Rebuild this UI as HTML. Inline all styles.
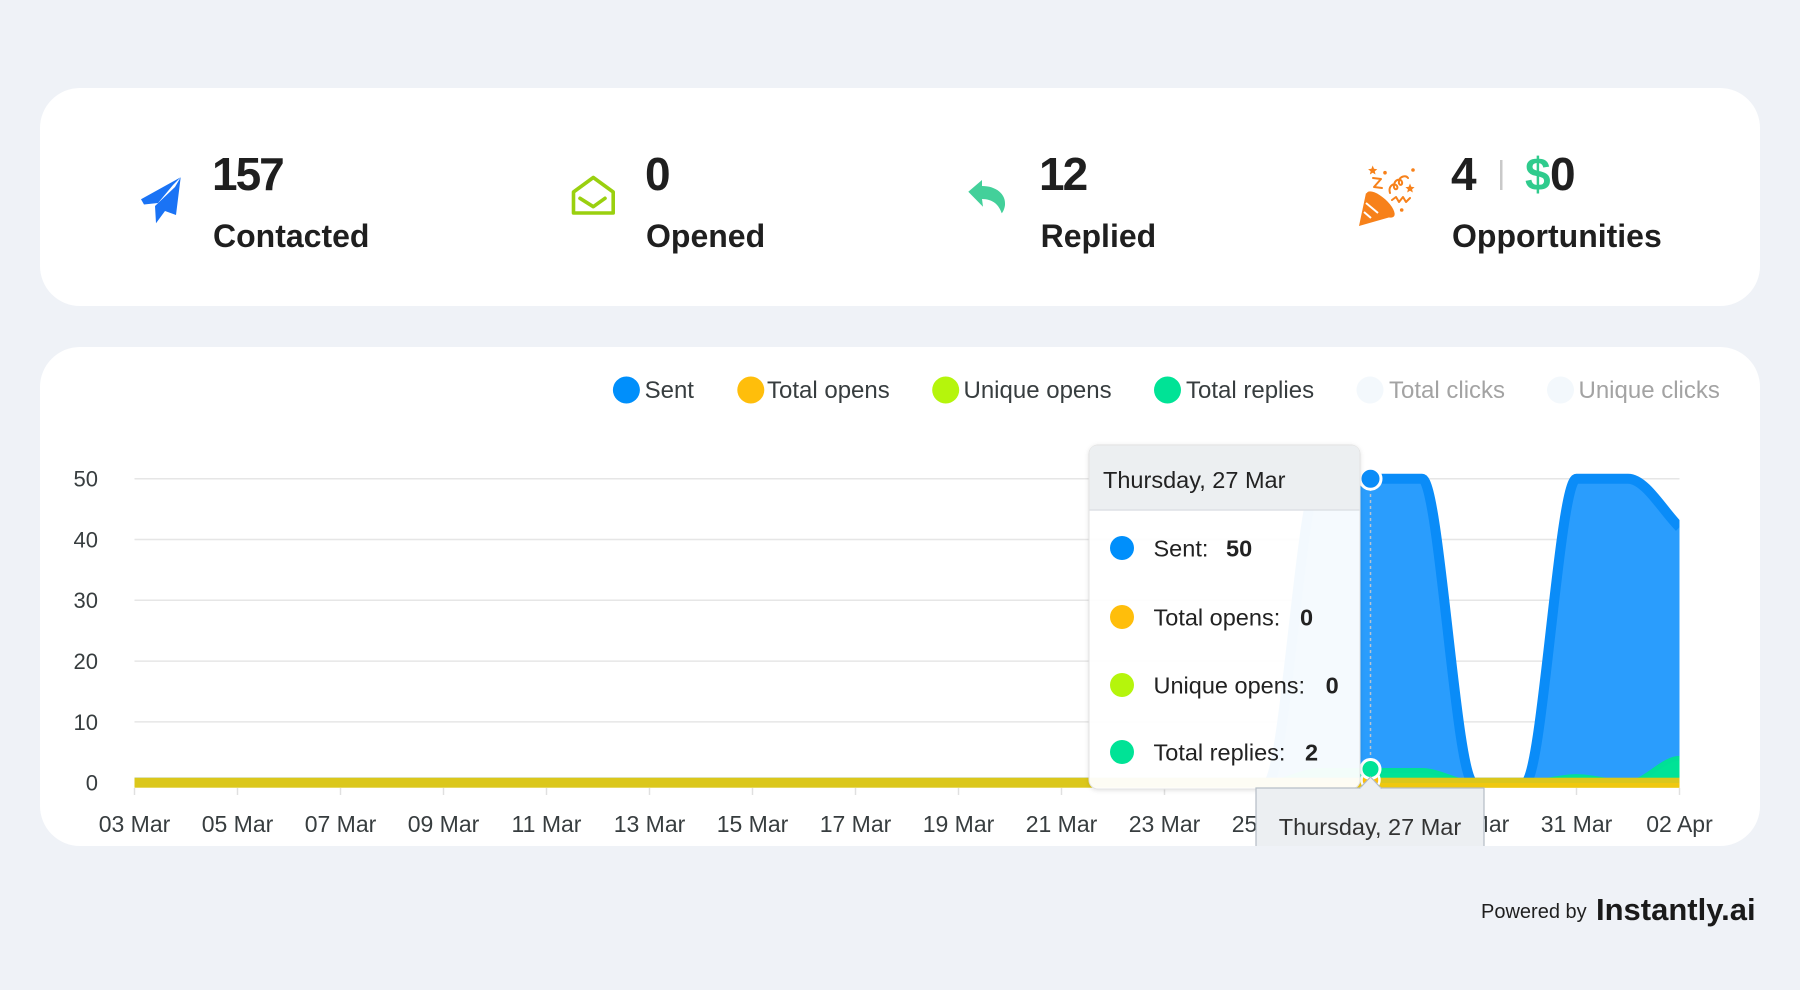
<!DOCTYPE html>
<html>
<head>
<meta charset="utf-8">
<style>
  html, body { margin:0; padding:0; background:#eff2f7; }
  body { width:1800px; height:990px; overflow:hidden; }
  svg { display:block; }
  text { font-family: "Liberation Sans", Arial, sans-serif; }
</style>
</head>
<body>
<svg width="1800" height="990" viewBox="0 0 1800 990" xmlns="http://www.w3.org/2000/svg">
  <defs>
    <clipPath id="plot"><rect x="134.5" y="440" width="1545" height="343"/></clipPath>
    <clipPath id="card2"><rect x="40" y="347" width="1720" height="499" rx="40" ry="40"/></clipPath>
    <filter id="tsh" x="-10%" y="-10%" width="120%" height="120%">
      <feDropShadow dx="0" dy="1" stdDeviation="2" flood-color="#000" flood-opacity="0.12"/>
    </filter>
  </defs>

  <!-- background -->
  <rect x="0" y="0" width="1800" height="990" fill="#eff2f7"/>

  <!-- stats card -->
  <rect x="40" y="88" width="1720" height="218" rx="40" ry="40" fill="#ffffff"/>

  <!-- paper plane -->
  <g fill="#1a73f5">
    <polygon points="180.7,177.3 141,199.3 144,204.5 158,203 173,185"/>
    <polygon points="180.7,177.3 176,215 165,211 156,223.3 155,206 175,187"/>
  </g>
  <text x="212" y="190" font-size="46" font-weight="700" fill="#1f1f1f" letter-spacing="-2">157</text>
  <text x="213" y="247" font-size="32" font-weight="700" fill="#1f1f1f">Contacted</text>

  <!-- envelope -->
  <g fill="none" stroke="#9ad00f" stroke-width="3.6" stroke-linejoin="round" stroke-linecap="round">
    <path d="M573.5,192 L593.3,177.5 L613.2,192 L613.2,213 L573.5,213 Z"/>
    <path d="M580,198.3 L593.3,206.7 L605,198.3"/>
  </g>
  <text x="645" y="190" font-size="46" font-weight="700" fill="#1f1f1f">0</text>
  <text x="646" y="247" font-size="32" font-weight="700" fill="#1f1f1f">Opened</text>

  <!-- reply arrow -->
  <path d="M968.3,191.7 L982,180 L982,186 C996,186 1006,194 1005,205 C1004.5,209 1003,212 1001.7,213.3 C999,205 993,199 982,199 L983,206.7 Z" fill="#43d09a"/>
  <text x="1039" y="190" font-size="46" font-weight="700" fill="#1f1f1f" letter-spacing="-2">12</text>
  <text x="1040.6" y="247" font-size="32" font-weight="700" fill="#1f1f1f">Replied</text>

  <!-- party popper -->
  <g fill="#f7811a" stroke="none">
    <path d="M1359,226 L1366,193 L1394,216 Z"/>
    <ellipse cx="1380.5" cy="204.5" rx="18" ry="7" transform="rotate(42 1380.5 204.5)"/>
    <circle cx="1385" cy="172.7" r="1.8"/>
    <circle cx="1413" cy="170" r="1.8"/>
    <circle cx="1401.7" cy="210" r="1.8"/>
    <polygon points="1372.7,165.5 1374,168.8 1377.3,169.3 1374.8,171.3 1375.5,174.5 1372.7,172.8 1369.9,174.5 1370.6,171.3 1368.1,169.3 1371.4,168.8"/>
    <polygon points="1410,183.5 1411.3,186.8 1414.6,187.3 1412.1,189.3 1412.8,192.5 1410,190.8 1407.2,192.5 1407.9,189.3 1405.4,187.3 1408.7,186.8"/>
  </g>
  <g fill="none" stroke="#ffffff" stroke-width="2">
    <path d="M1364,212 L1371,218"/>
    <path d="M1366,203 L1378,213"/>
  </g>
  <g fill="none" stroke="#f7811a" stroke-width="2" stroke-linecap="round" stroke-linejoin="round">
    <path d="M1373,178 L1381,179 L1374,187 L1382,188"/>
    <path d="M1390,193 C1388,186 1394,182 1397,186 C1399,190 1393,191 1394,185 C1395,179 1401,178 1402,182 C1403,186 1398,186 1399,181 C1400,176 1406,175 1408,178"/>
    <path d="M1392,200 L1396,197 L1399,202 L1403,197 L1406,202 L1410,198"/>
  </g>
  <text x="1451" y="190" font-size="46" font-weight="700" fill="#1f1f1f">4</text>
  <rect x="1500" y="160" width="2.5" height="30" fill="#c9c9c9"/>
  <text x="1525" y="190" font-size="46" font-weight="700" fill="#2fcb8d">$</text>
  <text x="1550" y="190" font-size="46" font-weight="700" fill="#1f1f1f">0</text>
  <text x="1452" y="247" font-size="32" font-weight="700" fill="#1f1f1f">Opportunities</text>

  <!-- chart card -->
  <rect x="40" y="347" width="1720" height="499" rx="40" ry="40" fill="#ffffff"/>

  <!-- legend -->
  <g font-size="24">
    <circle cx="626.4" cy="390" r="13.5" fill="#008ffb"/>
    <text x="644.6" y="398" fill="#373d3f">Sent</text>
    <circle cx="750.8" cy="390" r="13.5" fill="#ffbe0b"/>
    <text x="767" y="398" fill="#373d3f">Total opens</text>
    <circle cx="945.7" cy="390" r="13.5" fill="#b5f50c"/>
    <text x="963.5" y="398" fill="#373d3f">Unique opens</text>
    <circle cx="1167.5" cy="390" r="13.5" fill="#00e396"/>
    <text x="1186" y="398" fill="#373d3f">Total replies</text>
    <circle cx="1370" cy="390" r="13.5" fill="#f3f8fc"/>
    <text x="1389" y="398" fill="#a3a3a3">Total clicks</text>
    <circle cx="1560.5" cy="390" r="13.5" fill="#f3f8fc"/>
    <text x="1578.5" y="398" fill="#a3a3a3">Unique clicks</text>
  </g>

  <!-- gridlines -->
  <g stroke="#e6e6e6" stroke-width="1.5">
    <line x1="134.5" y1="478.7" x2="1679.5" y2="478.7"/>
    <line x1="134.5" y1="539.5" x2="1679.5" y2="539.5"/>
    <line x1="134.5" y1="600.3" x2="1679.5" y2="600.3"/>
    <line x1="134.5" y1="661.1" x2="1679.5" y2="661.1"/>
    <line x1="134.5" y1="721.9" x2="1679.5" y2="721.9"/>
  </g>

  <!-- y labels -->
  <g font-size="22" fill="#373d3f" text-anchor="end">
    <text x="98" y="486.6">50</text>
    <text x="98" y="547.4">40</text>
    <text x="98" y="608.2">30</text>
    <text x="98" y="669">20</text>
    <text x="98" y="729.8">10</text>
    <text x="98" y="790.6">0</text>
  </g>

  <!-- x ticks -->
  <g stroke="#e0e0e0" stroke-width="1.5">
    <line x1="134.5" y1="788" x2="134.5" y2="795"/>
    <line x1="237.5" y1="788" x2="237.5" y2="795"/>
    <line x1="340.5" y1="788" x2="340.5" y2="795"/>
    <line x1="443.5" y1="788" x2="443.5" y2="795"/>
    <line x1="546.5" y1="788" x2="546.5" y2="795"/>
    <line x1="649.5" y1="788" x2="649.5" y2="795"/>
    <line x1="752.5" y1="788" x2="752.5" y2="795"/>
    <line x1="855.5" y1="788" x2="855.5" y2="795"/>
    <line x1="958.5" y1="788" x2="958.5" y2="795"/>
    <line x1="1061.5" y1="788" x2="1061.5" y2="795"/>
    <line x1="1164.5" y1="788" x2="1164.5" y2="795"/>
    <line x1="1267.5" y1="788" x2="1267.5" y2="795"/>
    <line x1="1370.5" y1="788" x2="1370.5" y2="795"/>
    <line x1="1473.5" y1="788" x2="1473.5" y2="795"/>
    <line x1="1576.5" y1="788" x2="1576.5" y2="795"/>
    <line x1="1679.5" y1="788" x2="1679.5" y2="795"/>
  </g>

  <!-- x labels -->
  <g font-size="23" fill="#373d3f" text-anchor="middle">
    <text x="134.5" y="832">03 Mar</text>
    <text x="237.5" y="832">05 Mar</text>
    <text x="340.5" y="832">07 Mar</text>
    <text x="443.5" y="832">09 Mar</text>
    <text x="546.5" y="832">11 Mar</text>
    <text x="649.5" y="832">13 Mar</text>
    <text x="752.5" y="832">15 Mar</text>
    <text x="855.5" y="832">17 Mar</text>
    <text x="958.5" y="832">19 Mar</text>
    <text x="1061.5" y="832">21 Mar</text>
    <text x="1164.5" y="832">23 Mar</text>
    <text x="1267.5" y="832">25 Mar</text>
    <text x="1370.5" y="832">27 Mar</text>
    <text x="1473.5" y="832">29 Mar</text>
    <text x="1576.5" y="832">31 Mar</text>
    <text x="1679.5" y="832">02 Apr</text>
  </g>

  <!-- series -->
  <g clip-path="url(#plot)">
    <!-- Sent area -->
    <path d="M134.5,782.7 L1267.5,782.7 C1284.7,782.7 1301.8,478.7 1319,478.7 L1422,478.7 C1439.2,478.7 1456.3,782.7 1473.5,782.7 L1525,782.7 C1542.2,782.7 1559.3,478.7 1576.5,478.7 L1628,478.7 C1645.2,478.7 1662.3,510 1679.5,527.3 L1679.5,782.7 Z" fill="#2a9dfd"/>
    <path d="M134.5,782.7 L1267.5,782.7 C1284.7,782.7 1301.8,478.7 1319,478.7 L1422,478.7 C1439.2,478.7 1456.3,782.7 1473.5,782.7 L1525,782.7 C1542.2,782.7 1559.3,478.7 1576.5,478.7 L1628,478.7 C1645.2,478.7 1662.3,510 1679.5,527.3" fill="none" stroke="#0a8cf8" stroke-width="10" stroke-linejoin="round"/>
    <!-- Replies area -->
    <path d="M134.5,782.7 L1267.5,782.7 C1284.7,782.7 1301.8,770.5 1319,770.5 L1422,770.5 C1439.2,770.5 1456.3,782.7 1473.5,782.7 L1525,782.7 C1542.2,782.7 1559.3,776.6 1576.5,776.6 C1593.7,776.6 1610.8,782.7 1628,782.7 C1645.2,782.7 1662.3,758.4 1679.5,758.4 L1679.5,782.7 Z" fill="#00e396"/>
    <path d="M134.5,782.7 L1267.5,782.7 C1284.7,782.7 1301.8,770.5 1319,770.5 L1422,770.5 C1439.2,770.5 1456.3,782.7 1473.5,782.7 L1525,782.7 C1542.2,782.7 1559.3,776.6 1576.5,776.6 C1593.7,776.6 1610.8,782.7 1628,782.7 C1645.2,782.7 1662.3,758.4 1679.5,758.4" fill="none" stroke="#00e096" stroke-width="5" stroke-linejoin="round"/>
  </g>
  <!-- opens band -->
  <rect x="134.5" y="777.7" width="1545" height="10" fill="#dbc71b"/>
  <rect x="1300" y="783" width="379.5" height="4.7" fill="#efc80f"/>

  <!-- crosshair -->
  <line x1="1370.5" y1="488" x2="1370.5" y2="762" stroke="#b8c4cf" stroke-width="1.5" stroke-dasharray="3,3"/>

  <!-- markers -->
  <circle cx="1370.5" cy="780" r="9" fill="#ffbe0b" stroke="#ffffff" stroke-width="2.5"/>
  <circle cx="1370.5" cy="769" r="9.5" fill="#00e396" stroke="#ffffff" stroke-width="3"/>
  <circle cx="1370.5" cy="478.7" r="10.5" fill="#0a8cf8" stroke="#ffffff" stroke-width="3"/>

  <!-- tooltip -->
  <g filter="url(#tsh)">
    <rect x="1089" y="445" width="271" height="344" rx="9" ry="9" fill="rgba(255,255,255,0.95)" stroke="#e3e3e3" stroke-width="1"/>
  </g>
  <path d="M1098,445.5 L1351,445.5 Q1359.5,445.5 1359.5,454 L1359.5,510 L1089.5,510 L1089.5,454 Q1089.5,445.5 1098,445.5 Z" fill="#eceff1"/>
  <line x1="1089.5" y1="510" x2="1359.5" y2="510" stroke="#dde1e5" stroke-width="1.5"/>
  <text x="1103" y="488" font-size="23.5" fill="#222">Thursday, 27 Mar</text>

  <g font-size="23.5" fill="#222">
    <circle cx="1122" cy="548" r="12" fill="#008ffb"/>
    <text x="1153.5" y="556.5">Sent:</text>
    <text x="1226" y="556.5" font-weight="700">50</text>

    <circle cx="1122" cy="617" r="12" fill="#ffbe0b"/>
    <text x="1153.5" y="625.5">Total opens:</text>
    <text x="1300" y="625.5" font-weight="700">0</text>

    <circle cx="1122" cy="685" r="12" fill="#b5f50c"/>
    <text x="1153.5" y="693.5">Unique opens:</text>
    <text x="1325.6" y="693.5" font-weight="700">0</text>

    <circle cx="1122" cy="752" r="12" fill="#00e396"/>
    <text x="1153.5" y="760.5">Total replies:</text>
    <text x="1305" y="760.5" font-weight="700">2</text>
  </g>

  <!-- x-axis tooltip -->
  <g clip-path="url(#card2)">
    <rect x="1256" y="788" width="228" height="80" fill="#eceff2" stroke="#b3bcc5" stroke-width="1.2"/>
    <path d="M1359.5,788.6 L1370.5,777 L1381.5,788.6" fill="#eceff2" stroke="#b3bcc5" stroke-width="1.2"/>
    <rect x="1360.5" y="787.5" width="20" height="2" fill="#eceff2"/>
    <text x="1370" y="835" font-size="23.5" fill="#333" text-anchor="middle">Thursday, 27 Mar</text>
  </g>

  <!-- powered by -->
  <text x="1481" y="918" font-size="20" fill="#1f1f1f">Powered by</text>
  <text x="1596" y="920" font-size="31" font-weight="700" fill="#1a1a1a">Instantly.ai</text>
</svg>
</body>
</html>
